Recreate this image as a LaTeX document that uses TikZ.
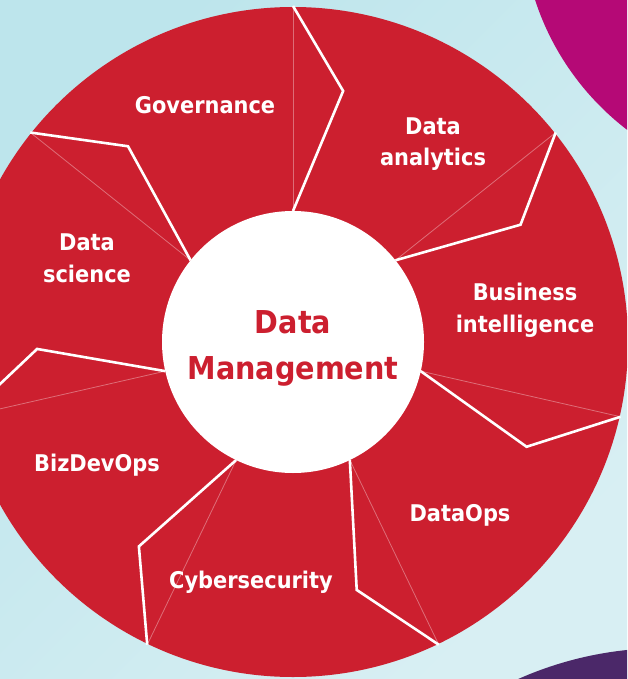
\documentclass[tikz,border=0pt]{standalone}
\usepackage{fontspec}
\setmainfont{DejaVu Sans}[FakeStretch=0.91]
\definecolor{bgA}{RGB}{189,229,236}
\definecolor{bgB}{RGB}{216,239,243}
\definecolor{wheel}{RGB}{204,31,47}
\definecolor{magentaC}{RGB}{181,9,118}
\definecolor{purpleC}{RGB}{75,40,105}
\begin{document}
\begin{tikzpicture}[x=1pt,y=-1pt,
  lab/.style={text=white,font=\bfseries\fontsize{23}{32}\selectfont,align=center,anchor=base,inner sep=0pt},
  hub/.style={text=wheel,font=\bfseries\fontsize{31.5}{46}\selectfont,align=center,anchor=base,inner sep=0pt},
  thinline/.style={draw=white,draw opacity=0.35,line width=0.8pt},
  whiteline/.style={draw=white,line width=2.6pt,line join=miter}]
\useasboundingbox (0,0) rectangle (627,679);
\begin{scope}
\clip (0,0) rectangle (627,679);
\shade[top color=bgA,bottom color=bgB,shading angle=45] (0,0) rectangle (627,679);
\fill[magentaC] (790,-83) circle[radius=268];
\fill[purpleC] (665,1010) circle[radius=362];
\coordinate (C) at (293,342);
\fill[wheel] (C) circle[radius=335];
\foreach \k in {0,...,6}{
  \pgfmathsetmacro{\t}{90-\k*360/7}
  \pgfmathsetmacro{\s}{\t-11.3}
  \coordinate (in\k) at ({293+131*cos(\t)},{342-131*sin(\t)});
  \coordinate (out\k) at ({293+336*cos(\t)},{342-336*sin(\t)});
  \coordinate (kink\k) at ({293+256*cos(\s)},{342-256*sin(\s)});
  \draw[thinline] (in\k) -- (out\k);
  \draw[whiteline] (in\k) -- (kink\k) -- (out\k);
}
\fill[white] (C) circle[radius=131];
\end{scope}
\node[lab] (gov) at (205,114) {Governance};
\node[lab] (da) at (433,166) {Data\\analytics};
\node[lab] (bi) at (525,332) {Business\\intelligence};
\node[lab] (ds) at (87,282) {Data\\science};
\node[lab] (bdo) at (97,471) {BizDevOps};
\node[lab] (dops) at (460,521) {DataOps};
\node[lab] (cyb) at (251,588) {Cybersecurity};
\node[hub] (dm) at (293,379) {Data\\Management};
\end{tikzpicture}
\end{document}
